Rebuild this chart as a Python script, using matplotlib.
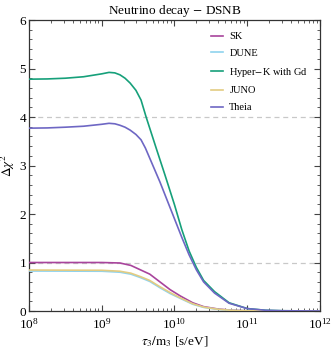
import numpy as np
import matplotlib
matplotlib.use('Agg')
import matplotlib.pyplot as plt
from matplotlib.ticker import MultipleLocator, LogLocator, NullFormatter

plt.rcParams['font.family'] = ['Liberation Serif', 'DejaVu Serif']
plt.rcParams['mathtext.fontset'] = 'stix'

logx_sk = [8.0, 9.0, 9.25, 9.4, 9.53, 9.66, 9.8, 9.94, 10.08, 10.25, 10.4, 10.6, 10.8, 11.0, 12.0]
sk = [1.00, 1.00, 0.99, 0.94, 0.85, 0.76, 0.60, 0.44, 0.31, 0.17, 0.09, 0.04, 0.015, 0.005, 0.0]
dune = [0.825, 0.82, 0.80, 0.76, 0.69, 0.61, 0.48, 0.36, 0.26, 0.14, 0.075, 0.032, 0.011, 0.004, 0.0]
juno = [0.845, 0.84, 0.82, 0.78, 0.71, 0.63, 0.50, 0.38, 0.27, 0.15, 0.08, 0.035, 0.012, 0.004, 0.0]

logx_hk = [8.0, 8.25, 8.5, 8.75, 9.0, 9.1, 9.18, 9.25, 9.32, 9.39, 9.47, 9.54, 9.61, 9.75, 9.87,
           10.0, 10.1, 10.2, 10.3, 10.4, 10.55, 10.75, 11.0, 11.25, 11.5, 12.0]
hyperk = [4.78, 4.785, 4.80, 4.83, 4.89, 4.92, 4.91, 4.87, 4.80, 4.70, 4.55, 4.35, 4.00, 3.35, 2.80,
          2.19, 1.68, 1.24, 0.90, 0.63, 0.40, 0.17, 0.05, 0.015, 0.005, 0.0]

logx_th = [8.0, 8.25, 8.5, 8.75, 9.0, 9.1, 9.18, 9.25, 9.32, 9.39, 9.47, 9.54, 9.6, 9.66, 9.8,
           9.9, 10.0, 10.1, 10.2, 10.3, 10.4, 10.55, 10.75, 11.0, 11.25, 11.5, 12.0]
theia = [3.77, 3.775, 3.79, 3.81, 3.85, 3.87, 3.86, 3.83, 3.79, 3.73, 3.64, 3.53, 3.36, 3.15, 2.66,
         2.28, 1.90, 1.52, 1.16, 0.85, 0.60, 0.37, 0.16, 0.05, 0.015, 0.005, 0.0]

series = [
    ('SK', logx_sk, sk, '#a8449c'),
    ('DUNE', logx_sk, dune, '#8fd3ee'),
    ('Hyper$-$K with Gd', logx_hk, hyperk, '#16a07a'),
    ('JUNO', logx_sk, juno, '#e3cc82'),
    ('Theia', logx_th, theia, '#6e67c4'),
]

fig = plt.figure(figsize=(3.32, 3.48), dpi=100)
ax = fig.add_axes([0.0873, 0.1063, 0.8766, 0.8362])

for y0 in [1, 4]:
    ax.axhline(y0, color='#c8c8c8', lw=0.9, ls=(0, (4, 3)), zorder=1)

for name, lx, vals, c in series:
    ax.plot(10 ** np.array(lx), vals, color=c, lw=1.2, label=name, zorder=3)

ax.set_xscale('log')
ax.set_xlim(1e8, 1e12)
ax.set_ylim(0, 6)
ax.yaxis.set_major_locator(MultipleLocator(1))
ax.yaxis.set_minor_locator(MultipleLocator(0.2))
ax.xaxis.set_major_locator(LogLocator(base=10, numticks=10))
ax.xaxis.set_minor_locator(LogLocator(base=10, subs=np.arange(2, 10), numticks=20))
ax.xaxis.set_minor_formatter(NullFormatter())

ax.tick_params(which='both', direction='in', top=True, right=True, color='#444444',
               labelsize=9.5, pad=2)
ax.tick_params(axis='x', which='major', pad=4)
ax.tick_params(which='major', length=4.5, width=0.8)
ax.tick_params(which='minor', length=2.5, width=0.6)
for s in ax.spines.values():
    s.set_color('#333333')
    s.set_linewidth(0.9)

ax.set_title('Neutrino decay $-$ DSNB', fontsize=9.5, pad=4)
ax.set_xlabel(r'$\tau_3/\mathrm{m}_3$ [s/eV]', fontsize=9.5, labelpad=2.5)
ax.set_ylabel(r'$\Delta\chi^2$', fontsize=9.5, labelpad=2)

ax.legend(loc='upper right', frameon=False, fontsize=7.5, handlelength=1.2,
          handletextpad=0.6, labelspacing=0.72, borderaxespad=0.75)

fig.savefig('out.png', dpi=100)
